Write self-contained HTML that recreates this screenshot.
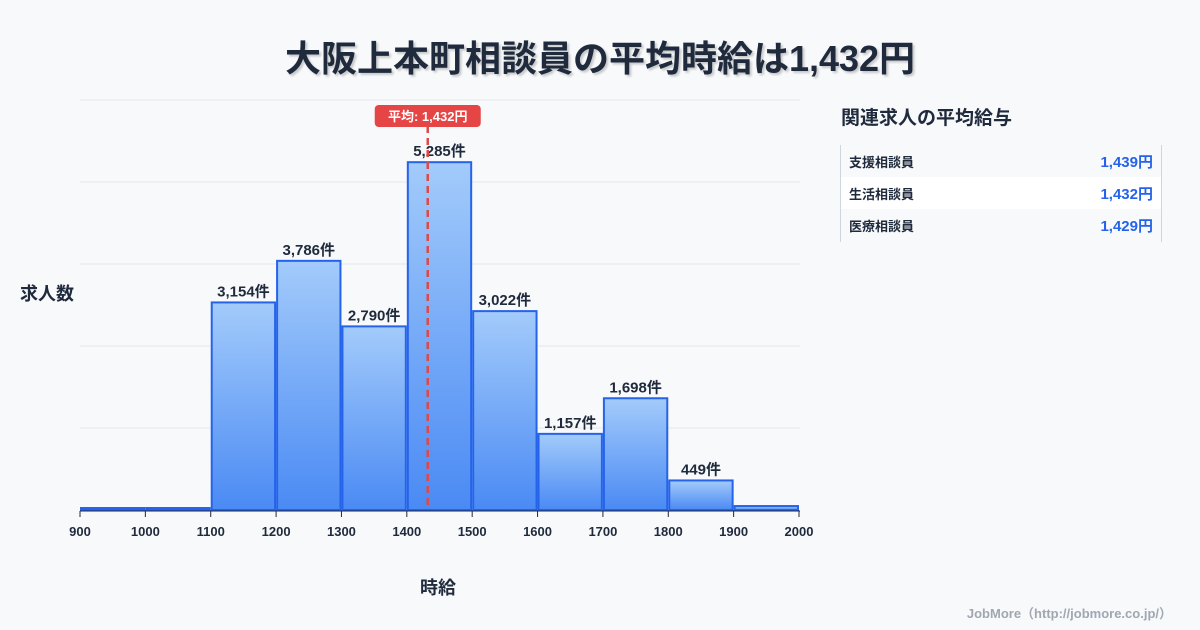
<!DOCTYPE html>
<html><head><meta charset="utf-8"><style>
body{margin:0;width:1200px;height:630px;background:#f8f9fb;font-family:"Liberation Sans","Noto Sans CJK JP",sans-serif;overflow:hidden;position:relative}
.t{position:absolute}
</style></head><body>
<div class="t" style="left:0;width:1200px;top:30px;text-align:center;font-size:36px;font-weight:bold;color:#1f2a3c;text-shadow:2px 2px 2px rgba(0,0,0,0.2)">大阪上本町相談員の平均時給は1,432円</div>
<div class="t" style="left:20px;top:280px;font-size:18px;font-weight:bold;color:#1f2a3c">求人数</div>
<div class="t" style="left:420px;top:574px;font-size:18px;font-weight:bold;color:#1f2a3c">時給</div>
<div class="t" style="left:841px;top:103px;font-size:19px;font-weight:bold;color:#1f2a3c">関連求人の平均給与</div>
<div class="t" style="left:840px;top:145px;width:320px;height:97px;border-left:1px solid #cfd6e0;border-right:1px solid #cfd6e0;font-size:13px;font-weight:bold;color:#1f2a3c">
 <div style="height:32px;display:flex;justify-content:space-between;align-items:center;padding:0 8px 0 8px"><span>支援相談員</span><span style="color:#2563eb;font-size:15px">1,439円</span></div>
 <div style="height:32px;background:#fff;display:flex;justify-content:space-between;align-items:center;padding:0 8px"><span>生活相談員</span><span style="color:#2563eb;font-size:15px">1,432円</span></div>
 <div style="height:32px;display:flex;justify-content:space-between;align-items:center;padding:0 8px"><span>医療相談員</span><span style="color:#2563eb;font-size:15px">1,429円</span></div>
</div>
<div class="t" style="right:28px;top:603px;font-size:13px;font-weight:bold;color:#a0a7b2">JobMore（http://jobmore.co.jp/）</div>
<svg id="c" class="t" style="left:0;top:0" width="1200" height="630">
<defs><linearGradient id="g" x1="0" y1="0" x2="0" y2="1"><stop offset="0" stop-color="#a3cbfb"/><stop offset="1" stop-color="#4a8af4"/></linearGradient></defs>
</svg>
<script>
const binStarts=[900,1000,1100,1200,1300,1400,1500,1600,1700,1800,1900];
const counts=[30,30,3154,3786,2790,5285,3022,1157,1698,449,60];
const labels=["","","3,154件","3,786件","2,790件","5,285件","3,022件","1,157件","1,698件","449件",""];
const xTicks=[900,1000,1100,1200,1300,1400,1500,1600,1700,1800,1900,2000];
const avg=1432;
const yMax=6230;
const svg=document.getElementById('c');const NS='http://www.w3.org/2000/svg';
const X=v=>80+(v-900)*(719/1100);
const Y=v=>510-v*(410/yMax);
function mk(t,a,txt){const e=document.createElementNS(NS,t);for(const k in a)e.setAttribute(k,a[k]);if(txt!==undefined)e.textContent=txt;svg.appendChild(e);return e;}
for(let i=1;i<=5;i++){const e=mk('line',{x1:80,x2:800,y1:510-i*82,y2:510-i*82,stroke:'#e3e7ed'});

}
binStarts.forEach((b,i)=>{const x0=X(b)+1,x1=X(b+100)-1,y=Y(counts[i]);
const r=mk('rect',{x:x0,y:y,width:x1-x0,height:510-y,fill:'url(#g)',stroke:'#2563eb','stroke-width':2});


if(labels[i]){const t=mk('text',{x:(x0+x1)/2,y:y-6,'text-anchor':'middle','font-size':15,'font-weight':'bold',fill:'#1f2a3c'},labels[i]);

}});
const ax=mk('line',{x1:80,x2:800,y1:511,y2:511,stroke:'#1f2a3c'});


xTicks.forEach(v=>{const l=mk('line',{x1:X(v),x2:X(v),y1:511,y2:517,stroke:'#1f2a3c'});


const t=mk('text',{x:X(v),y:536,'text-anchor':'middle','font-size':13,'font-weight':'bold',fill:'#1f2a3c'},v);

});
const al=mk('line',{x1:X(avg),x2:X(avg),y1:126,y2:510,stroke:'#e04848','stroke-width':2.5,'stroke-dasharray':'7,5'});


const ab=mk('rect',{x:X(avg)-53,y:105,width:106,height:22,rx:4,fill:'#e64545'});


const at=mk('text',{x:X(avg),y:121,'text-anchor':'middle','font-size':13,'font-weight':'bold',fill:'#fff'},'平均: 1,432円');


</script>
</body></html>
